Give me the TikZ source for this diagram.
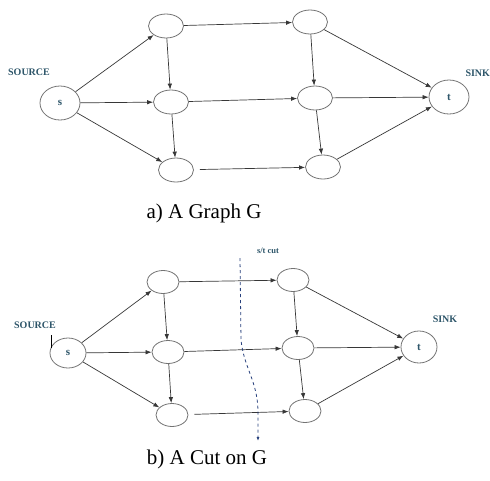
\documentclass[tikz,border=0pt]{standalone}
\usepackage{fontspec}
\setmainfont{Liberation Serif}
\usetikzlibrary{shapes.geometric}
\usetikzlibrary{arrows.meta}
\definecolor{labelteal}{RGB}{45,85,105}
\definecolor{cutblue}{RGB}{40,65,125}
\definecolor{edgegray}{RGB}{55,55,55}
\definecolor{ringgray}{RGB}{115,115,115}

\begin{document}
\begin{tikzpicture}[x=1pt, y=-1pt, >={Latex[length=6pt,width=4.5pt]},
    vertex/.style={ellipse, draw=ringgray, line width=0.8pt, minimum width=35pt, minimum height=24pt, inner sep=0pt},
    smallvertex/.style={vertex, minimum width=32pt, minimum height=23pt},
    terminal/.style={vertex, font=\bfseries\fontsize{11}{12}\selectfont, text=labelteal},
    tag/.style={font=\bfseries\fontsize{10}{12}\selectfont, text=labelteal},
    edge/.style={->, draw=edgegray, line width=0.7pt},
    caption/.style={anchor=base, font=\fontsize{21}{24}\selectfont}]
        \useasboundingbox (0,0) rectangle (490,480);

        % a) the graph
        \node[terminal, minimum width=40pt, minimum height=34pt] (s1) at (60,103) {s};
        \node[vertex] (a1) at (166,26) {};
        \node[vertex] (a2) at (171,102) {};
        \node[vertex] (a3) at (176,170) {};
        \node[vertex] (b1) at (310,22) {};
        \node[vertex] (b2) at (315,98) {};
        \node[vertex] (b3) at (323,167) {};
        \node[terminal, minimum width=40pt, minimum height=34pt] (t1) at (449,97) {t};
        \node[tag] (src1) at (29,72) {SOURCE};
        \node[tag, anchor=west] (snk1) at (462,73) {SINK};

        \draw[edge] (s1) -- (a1);
        \draw[edge] (s1) -- (a2);
        \draw[edge] (s1) -- (a3);
        \draw[edge] (a1) -- (a2);
        \draw[edge] (a2) -- (a3);
        \draw[edge] (a1) -- (b1);
        \draw[edge] (a2) -- (b2);
        \draw[edge, shorten <=6pt] (a3) -- (b3);
        \draw[edge] (b1) -- (b2);
        \draw[edge] (b2) -- (b3);
        \draw[edge] (b1) -- (t1);
        \draw[edge] (b2) -- (t1);
        \draw[edge] (b3) -- (t1);

        \node[caption] (capa) at (204,218) {a) A Graph G};

        % b) the cut
        \node[terminal, minimum width=36pt, minimum height=30pt] (s2) at (68,353) {s};
        \node[smallvertex] (c1) at (163,282) {};
        \node[smallvertex] (c2) at (168,352) {};
        \node[smallvertex] (c3) at (172,415) {};
        \node[smallvertex] (d1) at (293,280) {};
        \node[smallvertex] (d2) at (298,348) {};
        \node[smallvertex] (d3) at (305,411) {};
        \node[terminal, minimum width=36pt, minimum height=32pt] (t2) at (419,347) {t};
        \node[tag] (src2) at (35,325) {SOURCE};
        \node[tag] (snk2) at (445,319) {SINK};
        \node[tag, font=\bfseries\fontsize{8.5}{10}\selectfont] (cutlbl) at (268,251) {s/t cut};
        \draw[line width=0.6pt] (51,335) -- (51,348);

        \draw[edge] (s2) -- (c1);
        \draw[edge] (s2) -- (c2);
        \draw[edge] (s2) -- (c3);
        \draw[edge] (c1) -- (c2);
        \draw[edge] (c2) -- (c3);
        \draw[edge] (c1) -- (d1);
        \draw[edge] (c2) -- (d2);
        \draw[edge, shorten <=6pt] (c3) -- (d3);
        \draw[edge] (d1) -- (d2);
        \draw[edge] (d2) -- (d3);
        \draw[edge] (d1) -- (t2);
        \draw[edge] (d2) -- (t2);
        \draw[edge] (d3) -- (t2);

        % the s/t cut line
        \coordinate (cuttop) at (240,258);
        \coordinate (cutend) at (258,441);
        \draw[->, dashed, cutblue, line width=0.8pt, >={Latex[length=4pt,width=3pt]}]
            (cuttop) -- (241,340) .. controls (244,368) and (257,380) .. (258,410) -- (cutend);

        \node[caption] (capb) at (207,464) {b) A Cut on G};
    \end{tikzpicture}
\end{document}
